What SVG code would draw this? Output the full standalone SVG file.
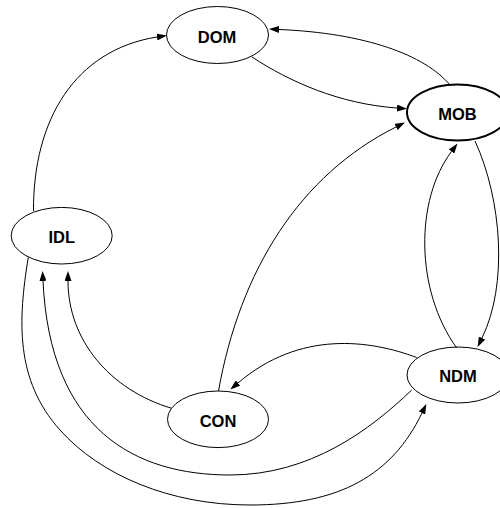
<svg xmlns="http://www.w3.org/2000/svg" width="500" height="508" viewBox="0 0 500 508">
<style>
.node ellipse{fill:none;stroke:#000;stroke-width:1}
.node text{font-family:"Liberation Sans",Arial,sans-serif;font-weight:bold;font-size:16.5px;text-anchor:middle;fill:#000}
.edge{fill:none;stroke:#000;stroke-width:1;marker-end:url(#ah)}
</style>
<defs>
<marker id="ah" viewBox="0 0 10 7" refX="0" refY="3.5" markerWidth="10" markerHeight="7" markerUnits="userSpaceOnUse" orient="auto">
<path d="M0,0 L10,3.5 L0,7 z" fill="#000"/>
</marker>
</defs>
<rect width="500" height="508" fill="#fff"/>
<g id="connectors">
<path class="edge" d="M33.5,211 C33,120 75,50 157,37"/>
<path class="edge" d="M252,57 C290,82 340,104 397,108"/>
<path class="edge" d="M450,85 C425,55 365,33 279,29.5"/>
<path class="edge" d="M218.5,391 C240,270 300,175 396,127"/>
<path class="edge" d="M475,141 C502,200 508,285 482,338"/>
<path class="edge" d="M456.7,348 C415,290 415,200 451.5,151.5"/>
<path class="edge" d="M416.7,357.5 C370,340 300,330 238,383"/>
<path class="edge" d="M171.7,408.3 C110,390 68,340 68,281"/>
<path class="edge" d="M411.7,390 C370,430 310,475 230,475 C135,475 50,430 43,281"/>
<path class="edge" d="M28.3,257.3 C18,320 15,380 60,430 C100,475 170,505 250,505 C340,505 392,475 422,413"/>
</g>
<g id="DOM" class="node"><ellipse cx="217.5" cy="35" rx="51" ry="28.5"/><text x="217" y="42.5">DOM</text></g>
<g id="MOB" class="node"><ellipse cx="457.5" cy="112.5" rx="50.5" ry="28" style="stroke-width:2"/><text x="457.5" y="120">MOB</text></g>
<g id="IDL" class="node"><ellipse cx="61.7" cy="235.7" rx="50.5" ry="28.3"/><text x="61.7" y="243">IDL</text></g>
<g id="CON" class="node"><ellipse cx="218" cy="419.3" rx="50.5" ry="28.3"/><text x="218" y="426.6">CON</text></g>
<g id="NDM" class="node"><ellipse cx="458" cy="375" rx="51" ry="28"/><text x="458" y="382.3">NDM</text></g>
</svg>
